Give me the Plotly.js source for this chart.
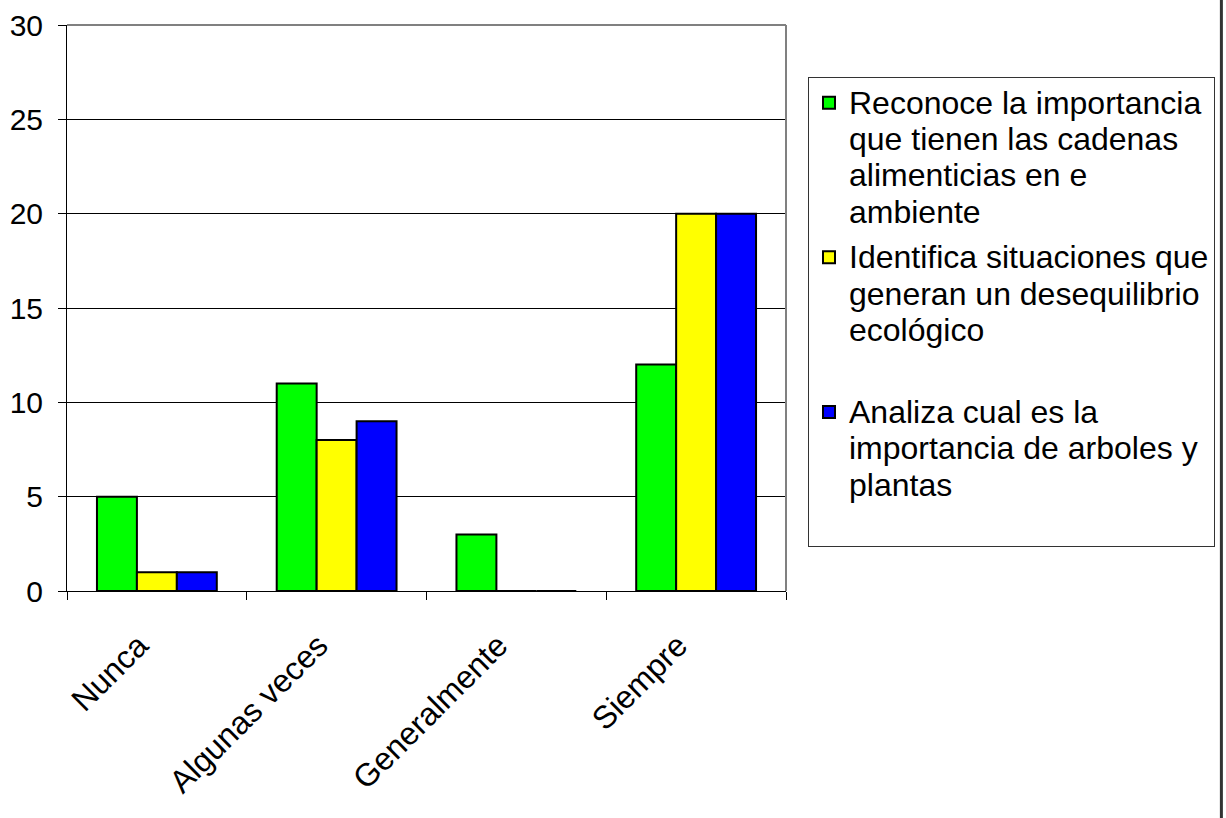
<!DOCTYPE html>
<html>
<head>
<meta charset="utf-8">
<script src="https://cdn.plot.ly/plotly-3.0.1.min.js"></script>
<style>html,body{margin:0;padding:0;background:#fff;}#chart{width:1226px;height:818px;}</style>
</head>
<body>
<div id="chart"></div>
<script>
const categories = ["Nunca", "Algunas veces", "Generalmente", "Siempre"];
const seriesLines = [
  ["Reconoce la importancia", "que tienen las cadenas", "alimenticias en e", "ambiente"],
  ["Identifica situaciones que", "generan un desequilibrio", "ecológico", " "],
  ["Analiza cual es la", "importancia de arboles y", "plantas", " "]
];
const reconoce = [5, 11, 3, 12];
const identifica = [1, 8, 0, 20];
const analiza = [1, 9, 0, 20];
const colors = ["#00FF00", "#FFFF00", "#0000FF"];
const yTicks = [0, 5, 10, 15, 20, 25, 30];

const FONT = "Liberation Sans, Arial, sans-serif";
const values = [reconoce, identifica, analiza];
const traces = values.map((v, i) => ({
  type: "bar",
  x: categories,
  y: v,
  legendgroup: "g" + i,
  name: seriesLines[i].map(s => '<span style="font-size:32px">' + s + '</span>').join("<br>"),
  marker: {color: colors[i], line: {color: "#000", width: 2}}
}));

const L = 67, R = 787, T = 25, B = 591, W = 1226, H = 818;
const pw = R - L, ph = B - T;
const layout = {
  width: W, height: H,
  margin: {l: L, r: W - R, t: T, b: H - B, pad: 0},
  paper_bgcolor: "#fff", plot_bgcolor: "#fff",
  font: {family: FONT, color: "#000"},
  barmode: "group", bargap: 1/3, bargroupgap: 0,
  showlegend: true,
  legend: {
    x: (808 - L) / pw, xanchor: "left",
    y: (B - 77) / ph, yanchor: "top",
    bgcolor: "#fff", bordercolor: "#333", borderwidth: 1,
    font: {family: FONT, size: 28, color: "#000"},
    valign: "top", tracegroupgap: 6
  },
  xaxis: {
    type: "category",
    showline: true, linecolor: "#000", linewidth: 1,
    ticks: "outside", tickson: "boundaries", ticklen: 8, tickcolor: "#000",
    tickangle: -45,
    ticklabelstandoff: 22, ticklabelshift: -18,
    tickfont: {family: FONT, size: 32, color: "#000"},
    showgrid: false, fixedrange: true
  },
  yaxis: {
    range: [0, 30], tickvals: yTicks, ticktext: yTicks.map(String),
    showline: true, linecolor: "#000", linewidth: 1,
    ticks: "outside", ticklen: 8, tickcolor: "#000",
    ticklabelstandoff: 9,
    tickfont: {family: FONT, size: 30, color: "#000"},
    showgrid: true, gridcolor: "#000", gridwidth: 1,
    zeroline: false, fixedrange: true
  },
  shapes: [
    {type: "line", xref: "paper", yref: "paper", x0: 0, x1: 1, y0: 1, y1: 1, line: {color: "#808080", width: 2}},
    {type: "line", xref: "paper", yref: "paper", x0: 1, x1: 1, y0: 0, y1: 1, line: {color: "#808080", width: 2}},
    {type: "line", xref: "paper", yref: "paper", x0: (1223 - L) / pw, x1: (1223 - L) / pw, y0: -(H - B) / ph, y1: 1 + T / ph, line: {color: "#333", width: 3}}
  ]
};
Plotly.newPlot("chart", traces, layout, {displayModeBar: false, staticPlot: true});
</script>
</body>
</html>
